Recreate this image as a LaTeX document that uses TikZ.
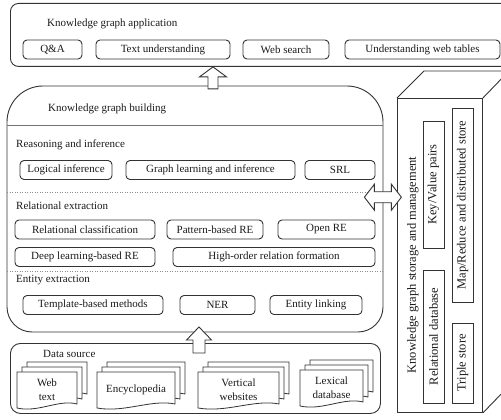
\documentclass[tikz,border=0pt]{standalone}
\usepackage{fontspec}
\setmainfont{Liberation Serif}
\usetikzlibrary{calc}
\definecolor{lc}{HTML}{333333}
\definecolor{tc}{HTML}{1A1A1A}
\tikzset{
  every node/.append style={text=tc},
  frame/.style={draw=lc, line width=0.9pt},
  item/.style={draw=lc, line width=0.9pt, rounded corners=4pt, inner sep=0pt, minimum height=19pt, font=\fontsize{11}{13}\selectfont},
  sitem/.style={draw=lc, line width=0.9pt, inner sep=0pt, minimum height=21pt, rotate=90, font=\fontsize{12.5}{14}\selectfont},
  lbl/.style={inner sep=0pt, anchor=west, font=\fontsize{11}{13}\selectfont},
  pg/.style={draw=lc, line width=0.8pt, fill=white},
  hollow/.style={draw=lc, line width=0.9pt, fill=white, line join=miter},
  sepline/.style={draw=black!45, line width=0.7pt, dash pattern=on 1pt off 1.5pt},
  solidsep/.style={draw=black!55, line width=0.8pt},
}
\newcommand{\dpage}[4]{%
  \draw[pg] ({#1},{#2}) -- ({#3},{#2}) -- ({#3},{(#4)-4})
    .. controls ({(#3)-0.3*((#3)-(#1))},{(#4)-9}) and ({(#1)+0.35*((#3)-(#1))},{(#4)+5}) .. ({#1},{#4}) -- cycle;}
\newcommand{\dstack}[6]{%
  \dpage{(#2)+10}{(#3)-10}{(#4)+10}{(#5)-10}
  \dpage{(#2)+5}{(#3)-5}{(#4)+5}{(#5)-5}
  \dpage{#2}{#3}{#4}{#5}
  \node[align=center, inner sep=0pt, font=\fontsize{11}{14}\selectfont] (#1) at ({((#2)+(#4))/2},{((#3)+(#5))/2}) {#6};}
\begin{document}
\begin{tikzpicture}[x=1pt,y=-1pt]
\useasboundingbox (0,0) rectangle (501,420);
\clip (0,0) rectangle (501,420);

% application
\node[frame, rounded corners=8pt, minimum width=520pt, minimum height=63pt, anchor=north west, inner sep=0pt] (app) at (10,3) {};
\node[lbl] (tapp) at (47,24) {Knowledge graph application};
\node[item, minimum width=59pt] (qa) at (52.5,49.5) {Q\&A};
\node[item, minimum width=134pt] (tu) at (163,49.5) {Text understanding};
\node[item, minimum width=86pt] (ws) at (286,49.5) {Web search};
\node[item, minimum width=155pt] (uwt) at (422.5,49.5) {Understanding web tables};

% building
\node[minimum width=376pt, minimum height=246pt, anchor=north west, inner sep=0pt] (build) at (7,86) {};
\draw[frame] (7,210) [rounded corners=25pt] -- (7,332) -- (383,332) -- (383,210) [rounded corners=36pt] -- (383,86) -- (7,86) -- cycle;
\node[lbl] (tbuild) at (48,109) {Knowledge graph building};
\draw[solidsep] ($(build.north west)+(0,39)$) -- ($(build.north east)+(0,39)$);
\node[lbl] (treason) at (16,145) {Reasoning and inference};
\node[item, minimum width=92pt] (li) at (66,170) {Logical inference};
\node[item, minimum width=169pt] (gl) at (210.5,170) {Graph learning and inference};
\node[item, minimum width=70pt] (srl) at (340,170) {SRL};
\draw[sepline] ($(build.north west)+(0,106)$) -- ($(build.north east)+(0,106)$);
\node[lbl] (trel) at (16,206) {Relational extraction};
\node[item, minimum width=140pt] (rc) at (85,229.5) {Relational classification};
\node[item, minimum width=96pt] (pb) at (215,229.5) {Pattern-based RE};
\node[item, minimum width=97pt] (ore) at (326.5,229.5) {Open RE};
\node[item, minimum width=140pt] (dl) at (85,257) {Deep learning-based RE};
\node[item, minimum width=202pt] (ho) at (274,257) {High-order relation formation};
\draw[sepline] ($(build.north west)+(0,185)$) -- ($(build.north east)+(0,185)$);
\node[lbl] (tent) at (16,280) {Entity extraction};
\node[item, minimum width=140pt] (tb) at (93,305) {Template-based methods};
\node[item, minimum width=75pt] (ner) at (217.5,305) {NER};
\node[item, minimum width=92pt] (el) at (316,305) {Entity linking};

% data source
\node[frame, rounded corners=10pt, minimum width=370pt, minimum height=70pt, anchor=north west, inner sep=0pt] (data) at (10,343) {};
\node[lbl] (tds) at (43,354) {Data source};
\dstack{web}{17}{372}{77}{408}{Web\\text}
\dstack{ency}{97}{372}{175}{408}{Encyclopedia}
\dstack{vert}{198}{372}{279}{408}{Vertical\\websites}
\dstack{lex}{300}{370}{363}{406}{Lexical\\database}

% storage cube
\node[frame, minimum width=85pt, minimum height=314pt, anchor=north west, inner sep=0pt] (cube) at (397,98) {};
\draw[frame, line join=miter] (cube.north west) -- ++(27,-27) -- ++(85,0) -- (cube.north east);
\draw[frame, line join=miter] (cube.north east) ++(27,-27) -- ++(0,314) -- (cube.south east);
\node[rotate=90, inner sep=0pt, font=\fontsize{12.5}{14}\selectfont] (kgs) at (413,265) {Knowledge graph storage and management};
\node[sitem, minimum width=127pt] (kv) at (433.5,184.5) {Key/Value pairs};
\node[sitem, minimum width=133pt] (rdb) at (433.5,336.5) {Relational database};
\node[sitem, minimum width=194pt] (mr) at (462.5,205) {Map/Reduce and distributed store};
\node[sitem, minimum width=80pt] (ts) at (462.5,363) {Triple store};

% block arrows
\coordinate (a1) at ($(app.south west)+(203,0)$);
\draw[hollow] (a1) -- ++(13.5,10) -- ++(-8.5,0) -- ++(0,12) -- ++(-10,0) -- ++(0,-12) -- ++(-8.5,0) -- cycle;
\coordinate (a2) at ($(data.north west)+(189,-16)$);
\draw[hollow] (a2) -- ++(12.5,13) -- ++(-6.5,0) -- ++(0,13) -- ++(-12,0) -- ++(0,-13) -- ++(-6.5,0) -- cycle;
\coordinate (d1) at ($(build.east)+(-19,-12)$);
\draw[hollow] (d1) -- ++(10,-13) -- ++(0,7.5) -- ++(17,0) -- ++(0,-7.5) -- ++(10,13) -- ++(-10,13) -- ++(0,-7.5) -- ++(-17,0) -- ++(0,7.5) -- cycle;
\end{tikzpicture}
\end{document}
